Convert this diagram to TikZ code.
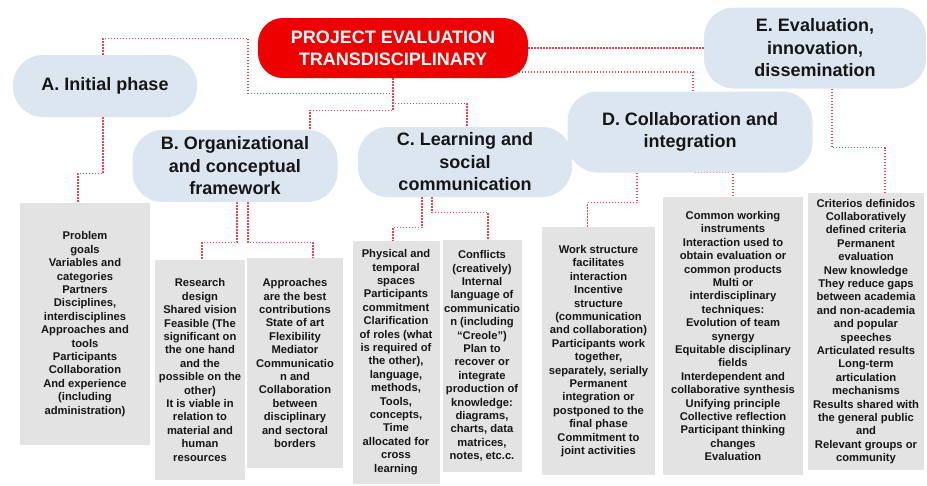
\documentclass[tikz,border=0pt]{standalone}
\usepackage{fontspec}
\setmainfont{Liberation Sans}
\usepackage{tikz}
\usetikzlibrary{backgrounds}
\definecolor{rootred}{RGB}{238,0,0}
\definecolor{pillfill}{RGB}{220,230,241}
\definecolor{boxfill}{RGB}{227,227,227}
\definecolor{linkred}{RGB}{228,70,80}
\definecolor{ink}{RGB}{22,22,22}
\tikzset{
  rootpill/.style={rectangle, rounded corners=25pt, fill=rootred, text=white,
                   inner sep=0pt, font=\fontsize{18}{22}\selectfont\bfseries, align=center},
  phase/.style   ={rectangle, rounded corners=30pt, fill=pillfill, text=ink,
                   inner sep=0pt, font=\fontsize{18}{22.5}\selectfont\bfseries, align=center},
  itembox/.style ={rectangle, fill=boxfill, text=ink, inner sep=0pt,
                   font=\fontsize{11.2}{13.4}\selectfont\bfseries, align=center},
  link/.style    ={draw=linkred, line width=1.1pt, dash pattern=on 1.4pt off 1.6pt},
}

\begin{document}
\begin{tikzpicture}[x=1pt, y=-1pt]
\useasboundingbox (0,0) rectangle (927,485);

\node[rootpill, minimum width=270pt, minimum height=60pt] (root) at (393,48)
  {PROJECT EVALUATION\\TRANSDISCIPLINARY};

\node[phase, minimum width=184pt, minimum height=62pt] (pA) at (105,86)
  {A. Initial phase};
\node[phase, minimum width=205pt, minimum height=72pt] (pB) at (235,166)
  {B. Organizational\\and conceptual\\framework};
\node[phase, minimum width=214pt, minimum height=70pt] (pC) at (465,162)
  {C. Learning and\\social\\communication};
\node[phase, minimum width=245pt, minimum height=81pt] (pD) at (690,132)
  {D. Collaboration and\\integration};
\node[phase, minimum width=222pt, minimum height=81pt] (pE) at (815,48)
  {E. Evaluation,\\innovation,\\dissemination};

\node[itembox, minimum width=130pt, minimum height=242pt] (bA) at (85,324)
  {Problem\\goals\\Variables and\\categories\\Partners\\Disciplines,\\interdisciplines\\Approaches and\\tools\\Participants\\Collaboration\\And experience\\(including\\administration)};
\node[itembox, minimum width=90pt, minimum height=220pt] (bB1) at (200,370)
  {Research\\design\\Shared vision\\Feasible (The\\significant on\\the one hand\\and the\\possible on the\\other)\\It is viable in\\relation to\\material and\\human\\resources};
\node[itembox, minimum width=96pt, minimum height=210pt] (bB2) at (295,363)
  {Approaches\\are the best\\contributions\\State of art\\Flexibility\\Mediator\\Communicatio\\n and\\Collaboration\\between\\disciplinary\\and sectoral\\borders};
\node[itembox, minimum width=87pt, minimum height=243pt] (bC1) at (396,362)
  {Physical and\\temporal\\spaces\\Participants\\commitment\\Clarification\\of roles (what\\is required of\\the other),\\language,\\methods,\\Tools,\\concepts,\\Time\\allocated for\\cross\\learning};
\node[itembox, minimum width=79pt, minimum height=232pt] (bC2) at (482,356)
  {Conflicts\\(creatively)\\Internal\\language of\\communicatio\\n (including\\“Creole”)\\Plan to\\recover or\\integrate\\production of\\knowledge:\\diagrams,\\charts, data\\matrices,\\notes, etc.c.};
\node[itembox, minimum width=113pt, minimum height=248pt] (bD1) at (598.5,351)
  {Work structure\\facilitates\\interaction\\Incentive\\structure\\(communication\\and collaboration)\\Participants work\\together,\\separately, serially\\Permanent\\integration or\\postponed to the\\final phase\\Commitment to\\joint activities};
\node[itembox, minimum width=140pt, minimum height=278pt] (bD2) at (733,336)
  {Common working\\instruments\\Interaction used to\\obtain evaluation or\\common products\\Multi or\\interdisciplinary\\techniques:\\Evolution of team\\synergy\\Equitable disciplinary\\fields\\Interdependent and\\collaborative synthesis\\Unifying principle\\Collective reflection\\Participant thinking\\changes\\Evaluation};
\node[itembox, minimum width=116pt, minimum height=277pt] (bE) at (866,331.5)
  {Criterios definidos\\Collaboratively\\defined criteria\\Permanent\\evaluation\\New knowledge\\They reduce gaps\\between academia\\and non-academia\\and popular\\speeches\\Articulated results\\Long-term\\articulation\\mechanisms\\Results shared with\\the general public\\and\\Relevant groups or\\community};

\begin{pgfonlayer}{background}
  \draw[link] (root.south) -- ++(0,15) -| ++(-145,-55) -| ([xshift=-2pt]pA.north);
  \draw[link] (root.south) -- ++(0,32) -| ([xshift=75pt]pB.north);
  \draw[link] (root.south) -- ++(0,25) -| ([xshift=2pt]pC.north);
  \draw[link] ([yshift=-24pt]root.center) -| ([xshift=3pt]pD.north);
  \draw[link] (root.east) -- (pE.west);

  \draw[link] ([xshift=-2pt]pA.south) -- ++(0,56) -| ([xshift=-7pt]bA.north);
  \draw[link] ([xshift=2pt]pB.south) -- ++(0,40) -| ([xshift=2pt]bB1.north);
  \draw[link] ([xshift=13pt]pB.south) -- ++(0,40) -| ([xshift=18pt]bB2.north);
  \draw[link] ([xshift=-43pt]pC.south) -- ++(0,30) -| ([xshift=-3pt]bC1.north);
  \draw[link] ([xshift=-33pt]pC.south) -- ++(0,15) -| ([xshift=6pt]bC2.north);
  \draw[link] ([xshift=-53pt]pD.south) -- ++(0,30) -| ([xshift=-11pt]bD1.north);
  \draw[link] ([xshift=5pt]pD.south) -| (bD2.north);
  \draw[link] ([xshift=17pt]pE.south) -- ++(0,59) -| ([xshift=19pt]bE.north);
\end{pgfonlayer}
\end{tikzpicture}
\end{document}
